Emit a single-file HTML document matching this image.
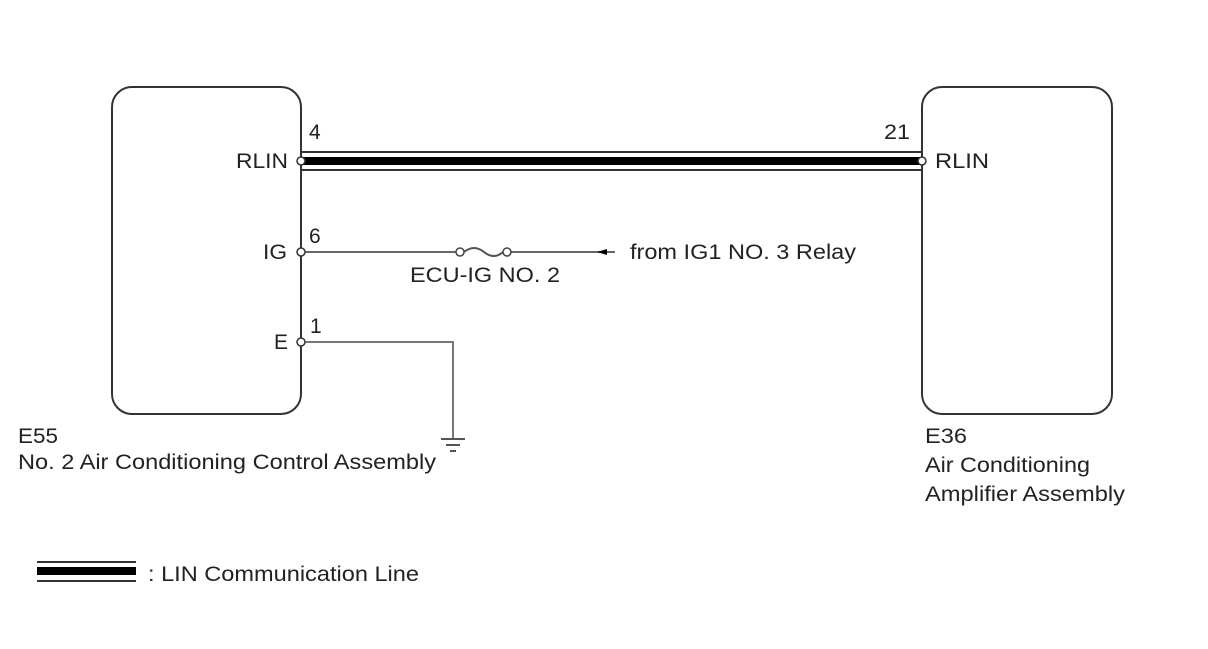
<!DOCTYPE html>
<html><head><style>
body{margin:0;background:#fff;}
svg text{font-family:"Liberation Sans",Arial,sans-serif;font-size:21px;fill:#222;}
</style></head><body>
<svg width="1208" height="644" xmlns="http://www.w3.org/2000/svg">
<rect x="112" y="87" width="189" height="327" rx="20" fill="none" stroke="#333" stroke-width="2"/>
<rect x="922" y="87" width="190" height="327" rx="20" fill="none" stroke="#333" stroke-width="2"/>
<line x1="301" y1="152" x2="922" y2="152" stroke="#333" stroke-width="2"/>
<line x1="301" y1="161" x2="922" y2="161" stroke="#000" stroke-width="8"/>
<line x1="301" y1="170" x2="922" y2="170" stroke="#333" stroke-width="2"/>
<line x1="301" y1="252" x2="456" y2="252" stroke="#666" stroke-width="2"/>
<path d="M464 252 Q474 244 484 252 Q494 260 503 252" fill="none" stroke="#555" stroke-width="2"/>
<line x1="511" y1="252" x2="615" y2="252" stroke="#666" stroke-width="2"/>
<polygon points="597,252 607,249 607,255" fill="#000"/>
<circle cx="460" cy="252" r="4" fill="#fff" stroke="#444" stroke-width="1.5"/>
<circle cx="507" cy="252" r="4" fill="#fff" stroke="#444" stroke-width="1.5"/>
<polyline points="301,342 453,342 453,438" fill="none" stroke="#777" stroke-width="2"/>
<line x1="441" y1="439" x2="465" y2="439" stroke="#555" stroke-width="2"/>
<line x1="446" y1="445" x2="460" y2="445" stroke="#555" stroke-width="2"/>
<line x1="450" y1="451" x2="456" y2="451" stroke="#555" stroke-width="2"/>
<circle cx="301" cy="161" r="4" fill="#fff" stroke="#333" stroke-width="1.5"/>
<circle cx="301" cy="252" r="4" fill="#fff" stroke="#333" stroke-width="1.5"/>
<circle cx="301" cy="342" r="4" fill="#fff" stroke="#333" stroke-width="1.5"/>
<circle cx="922" cy="161" r="4" fill="#fff" stroke="#333" stroke-width="1.5"/>
<text x="309" y="139">4</text>
<text x="236" y="168" textLength="52" lengthAdjust="spacingAndGlyphs">RLIN</text>
<text x="309" y="243">6</text>
<text x="263" y="259" textLength="24" lengthAdjust="spacingAndGlyphs">IG</text>
<text x="310" y="333">1</text>
<text x="274" y="349" textLength="14" lengthAdjust="spacingAndGlyphs">E</text>
<text x="884" y="139" textLength="26" lengthAdjust="spacingAndGlyphs">21</text>
<text x="935" y="168" textLength="54" lengthAdjust="spacingAndGlyphs">RLIN</text>
<text x="410" y="282" textLength="150" lengthAdjust="spacingAndGlyphs">ECU-IG NO. 2</text>
<text x="630" y="259" textLength="226" lengthAdjust="spacingAndGlyphs">from IG1 NO. 3 Relay</text>
<text x="18" y="443" textLength="40" lengthAdjust="spacingAndGlyphs">E55</text>
<text x="18" y="469" textLength="418" lengthAdjust="spacingAndGlyphs">No. 2 Air Conditioning Control Assembly</text>
<text x="925" y="443" textLength="42" lengthAdjust="spacingAndGlyphs">E36</text>
<text x="925" y="472" textLength="165" lengthAdjust="spacingAndGlyphs">Air Conditioning</text>
<text x="925" y="501" textLength="200" lengthAdjust="spacingAndGlyphs">Amplifier Assembly</text>
<line x1="37" y1="562" x2="136" y2="562" stroke="#333" stroke-width="2"/>
<line x1="37" y1="571" x2="136" y2="571" stroke="#000" stroke-width="8"/>
<line x1="37" y1="581" x2="136" y2="581" stroke="#333" stroke-width="2"/>
<text x="148" y="581" textLength="271" lengthAdjust="spacingAndGlyphs">: LIN Communication Line</text>
</svg>
</body></html>
